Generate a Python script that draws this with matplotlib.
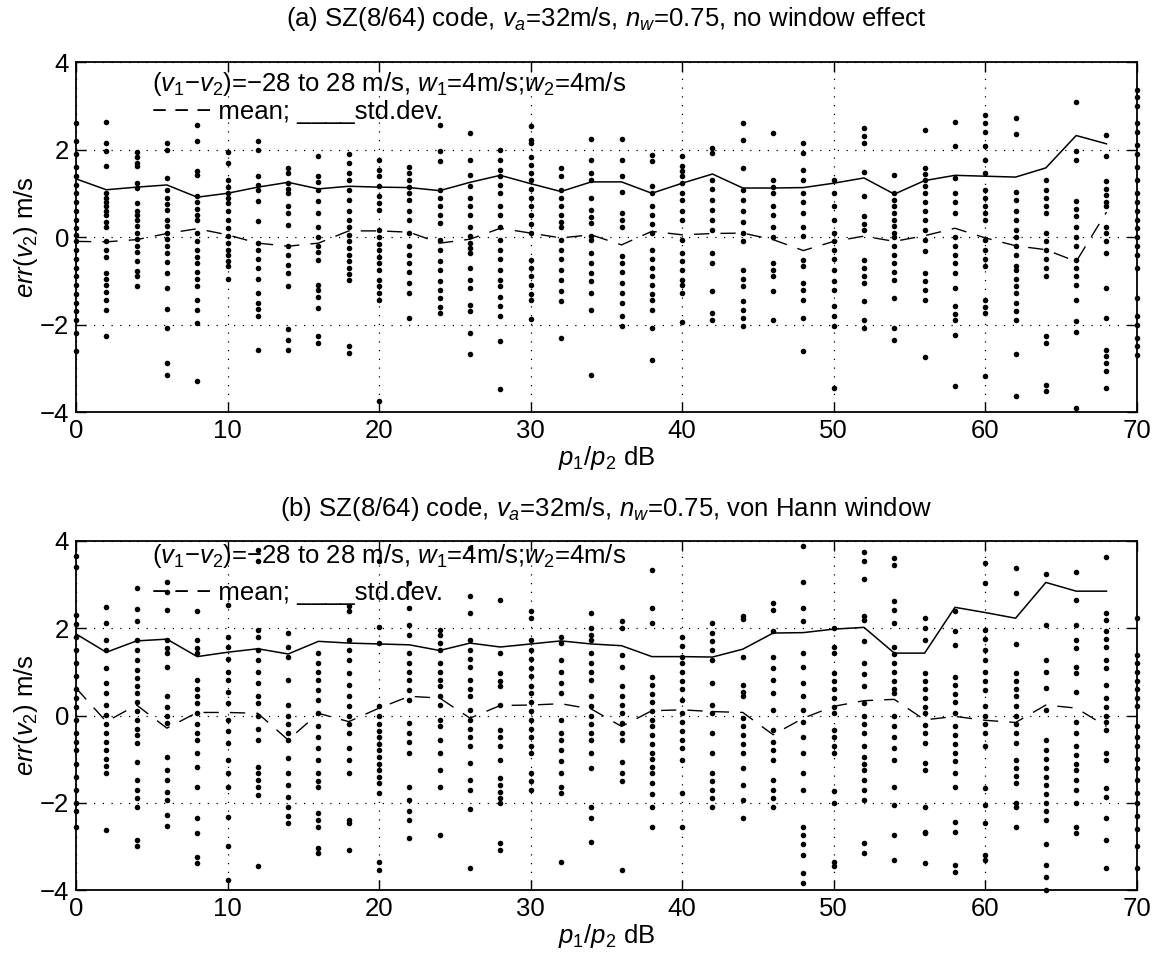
import matplotlib
matplotlib.use('Agg')
from matplotlib.backends.backend_agg import FigureCanvasAgg as FigureCanvas
from matplotlib.figure import Figure

matplotlib.rcParams['font.family'] = ['Liberation Sans', 'DejaVu Sans']
matplotlib.rcParams['mathtext.fontset'] = 'custom'
matplotlib.rcParams['mathtext.rm'] = 'Liberation Sans'
matplotlib.rcParams['mathtext.it'] = 'Liberation Sans:italic'

# p1/p2 in dB, one column of points every 2 dB
snr_db = [0, 2, 4, 6, 8, 10, 12, 14, 16, 18, 20, 22, 24, 26, 28, 30, 32, 34,
          36, 38, 40, 42, 44, 46, 48, 50, 52, 54, 56, 58, 60, 62, 64, 66, 68, 70]

# (a) no window effect: err(v2) per column
errs_a = [
    [2.6, 2.2, 1.9, 1.6, 1.4, 1.2, 1.0, 0.8, 0.6, 0.4, 0.2, 0.05, -0.1, -0.3, -0.5, -0.7, -0.9, -1.1, -1.3, -1.5, -1.7, -1.9, -2.2, -2.6],
    [2.64, 2.16, 1.96, 1.62, 1.0, 0.9, 0.8, 0.7, 0.6, 0.5, 0.35, 0.24, -0.1, -0.3, -0.45, -0.82, -0.95, -1.1, -1.25, -1.43, -1.66, -2.27],
    [1.94, 1.84, 1.7, 1.62, 1.23, 1.12, 0.78, 0.6, 0.5, 0.4, 0.25, 0.1, -0.05, -0.2, -0.35, -0.55, -0.78, -0.9, -1.13],
    [2.16, 2.0, 1.36, 1.08, 0.9, 0.75, 0.62, 0.4, 0.25, 0.1, -0.05, -0.2, -0.37, -0.56, -0.82, -1.17, -1.65, -2.08, -2.88, -3.15],
    [2.55, 2.19, 1.5, 1.42, 0.93, 0.8, 0.65, 0.5, 0.4, 0.09, -0.1, -0.3, -0.45, -0.6, -0.8, -0.97, -1.13, -1.43, -1.66, -1.97, -3.3],
    [1.94, 1.7, 1.3, 1.15, 1.0, 0.9, 0.78, 0.6, 0.4, 0.2, 0.02, -0.14, -0.3, -0.4, -0.55, -0.67, -0.97],
    [2.19, 2.0, 1.39, 1.2, 1.08, 0.82, 0.36, -0.14, -0.3, -0.5, -0.7, -0.97, -1.28, -1.5, -1.65, -1.81, -2.58],
    [1.58, 1.46, 1.23, 1.1, 1.0, 0.7, 0.55, 0.28, -0.21, -0.4, -0.63, -0.82, -1.13, -2.1, -2.35, -2.58],
    [1.86, 1.39, 1.25, 1.08, 0.82, 0.55, 0.24, 0.0, -0.2, -0.35, -0.52, -1.09, -1.2, -1.36, -1.62, -2.27, -2.42],
    [1.9, 1.69, 1.46, 1.3, 1.08, 0.85, 0.6, 0.4, 0.24, 0.05, -0.1, -0.25, -0.4, -0.55, -0.7, -0.85, -0.98, -2.5, -2.65],
    [1.77, 1.54, 1.4, 1.16, 0.93, 0.78, 0.62, 0.17, 0.0, -0.15, -0.3, -0.45, -0.6, -0.75, -0.98, -1.13, -1.28, -1.43, -3.75],
    [1.6, 1.46, 1.3, 1.15, 1.0, 0.85, 0.6, 0.4, 0.09, -0.21, -0.4, -0.6, -0.8, -1.05, -1.28, -1.85],
    [2.57, 1.96, 1.73, 1.08, 0.9, 0.7, 0.5, 0.32, -0.06, -0.3, -0.55, -0.75, -1.0, -1.2, -1.4, -1.6, -1.74],
    [2.38, 1.75, 1.42, 1.16, 0.89, 0.7, 0.51, 0.24, 0.02, -0.14, -0.25, -0.37, -0.71, -0.98, -1.17, -1.55, -1.7, -2.19, -2.67],
    [2.0, 1.77, 1.54, 1.39, 1.2, 1.0, 0.7, 0.5, 0.24, -0.06, -0.3, -0.5, -0.75, -0.98, -1.13, -1.36, -1.58, -1.81, -2.38, -3.47],
    [2.53, 2.22, 2.15, 1.84, 1.65, 1.46, 1.31, 1.1, 0.9, 0.7, 0.5, 0.3, 0.1, -0.52, -0.7, -0.9, -1.1, -1.3, -1.43, -1.87],
    [1.58, 1.39, 1.08, 0.9, 0.7, 0.5, 0.35, 0.24, -0.06, -0.3, -0.5, -0.75, -0.98, -1.24, -1.47, -2.31],
    [2.24, 1.77, 1.46, 1.31, 0.89, 0.62, 0.45, 0.32, 0.02, -0.06, -0.37, -0.6, -0.82, -1.01, -1.28, -1.66, -3.15],
    [2.24, 1.77, 1.39, 1.02, 0.55, 0.4, 0.24, -0.44, -0.6, -0.8, -1.05, -1.28, -1.5, -1.81, -2.04],
    [1.88, 1.73, 1.16, 1.0, 0.7, 0.5, 0.3, 0.09, -0.29, -0.5, -0.7, -0.9, -1.1, -1.3, -1.43, -1.66, -2.08, -2.8],
    [1.86, 1.62, 1.5, 1.39, 1.23, 1.0, 0.85, 0.6, 0.4, -0.06, -0.37, -0.55, -0.75, -0.98, -1.09, -1.28, -1.95],
    [2.03, 1.92, 1.31, 1.1, 0.85, 0.62, 0.4, 0.17, -0.37, -0.6, -1.24, -1.74, -1.89],
    [2.6, 2.21, 1.58, 1.08, 0.85, 0.6, 0.35, 0.09, -0.1, -0.75, -0.95, -1.13, -1.47, -1.66, -1.85, -2.04],
    [2.38, 1.31, 1.15, 1.0, 0.7, 0.5, 0.24, 0.0, -0.6, -0.75, -0.9, -1.23, -1.89],
    [2.16, 1.92, 1.54, 1.31, 1.0, 0.8, 0.55, 0.24, 0.02, -0.52, -0.67, -1.05, -1.2, -1.43, -1.85, -2.6],
    [1.31, 1.0, 0.7, 0.4, 0.09, -0.1, -0.3, -0.5, -0.75, -1.01, -1.2, -1.58, -1.8, -2.04, -3.45],
    [2.49, 2.3, 2.15, 1.48, 0.93, 0.47, 0.3, 0.17, -0.52, -0.7, -0.9, -1.05, -1.47, -1.89, -2.08],
    [1.42, 1.0, 0.85, 0.7, 0.55, 0.4, 0.25, 0.09, 0.0, -0.2, -0.4, -0.6, -0.8, -0.98, -1.39, -2.08, -2.35],
    [2.45, 1.58, 1.45, 1.31, 1.16, 1.0, 0.8, 0.6, 0.4, 0.17, -0.06, -0.33, -0.82, -1.0, -1.2, -1.43, -2.75],
    [2.64, 2.07, 1.35, 1.0, 0.8, 0.55, 0.0, -0.2, -0.4, -0.6, -0.82, -1.17, -1.58, -1.75, -1.89, -2.23, -3.4],
    [2.8, 2.6, 2.4, 2.07, 1.77, 1.46, 1.08, 0.9, 0.7, 0.55, 0.4, -0.06, -0.3, -0.5, -0.67, -1.43, -1.6, -1.74, -3.18],
    [2.72, 2.36, 1.04, 0.85, 0.6, 0.4, 0.17, 0.0, -0.2, -0.4, -0.67, -0.75, -0.95, -1.13, -1.28, -1.5, -1.7, -1.89, -2.67, -3.63],
    [1.31, 1.08, 0.9, 0.7, 0.55, 0.09, -0.1, -0.3, -0.5, -0.7, -0.9, -2.27, -2.42, -3.38, -3.53],
    [3.09, 1.96, 1.77, 0.82, 0.65, 0.47, 0.24, 0.0, -0.21, -0.52, -0.7, -0.9, -1.1, -1.43, -1.93, -2.16, -3.9],
    [2.34, 1.86, 1.27, 1.1, 0.95, 0.8, 0.7, 0.24, 0.1, -0.1, -0.37, -1.17, -1.85, -2.58, -2.73, -2.88, -3.06, -3.45],
    [3.37, 3.2, 3.0, 2.6, 2.4, 2.1, 1.9, 1.6, 1.3, 1.0, 0.8, 0.6, 0.4, 0.2, 0.0, -0.2, -0.4, -0.7, -1.4, -1.8, -2.0, -2.3, -2.5, -2.7],
]
mean_a = [-0.1, -0.11, -0.06, 0.08, 0.19, 0.05, -0.14, -0.21, -0.14, 0.14, 0.14, 0.11,
          -0.14, -0.05, 0.2, 0.09, -0.02, 0.05, -0.18, 0.13, 0.05, 0.08, 0.09, -0.06,
          -0.31, -0.1, 0.02, -0.1, 0.03, 0.2, -0.02, -0.2, -0.29, -0.56, 0.57]
std_a = [1.33, 1.08, 1.14, 1.19, 0.91, 1.0, 1.14, 1.25, 1.1, 1.16, 1.14, 1.13,
         1.06, 1.25, 1.41, 1.22, 1.04, 1.26, 1.26, 1.0, 1.23, 1.44, 1.12, 1.12,
         1.13, 1.23, 1.35, 0.98, 1.29, 1.41, 1.39, 1.37, 1.58, 2.32, 2.13]

# (b) von Hann window
errs_b = [
    [3.65, 3.4, 2.3, 2.1, 1.8, 1.5, 1.2, 0.9, 0.6, 0.4, 0.2, -0.1, -0.4, -0.6, -0.8, -1.1, -1.4, -1.7, -2.0, -2.2, -2.55],
    [2.48, 2.12, 1.74, 1.51, 1.09, 0.74, 0.51, 0.24, 0.02, -0.2, -0.4, -0.6, -0.8, -1.0, -1.15, -1.32, -2.62],
    [2.92, 2.44, 2.17, 1.74, 1.51, 1.28, 1.05, 0.85, 0.67, 0.51, 0.3, 0.1, -0.1, -0.3, -0.45, -0.63, -1.06, -1.48, -1.7, -1.9, -2.09, -2.85, -3.0],
    [3.05, 2.84, 2.42, 1.74, 1.55, 1.43, 1.12, 0.44, 0.2, 0.0, -0.18, -0.94, -1.25, -1.48, -1.75, -1.93, -2.28, -2.53],
    [2.39, 1.74, 1.55, 1.43, 0.82, 0.6, 0.45, 0.28, 0.05, -0.2, -0.4, -0.56, -0.86, -1.17, -1.63, -2.36, -2.7, -3.24, -3.37],
    [2.54, 1.81, 1.58, 1.3, 1.0, 0.82, 0.55, 0.28, -0.1, -0.35, -0.63, -1.02, -1.32, -1.63, -2.32, -3.0, -3.77],
    [3.8, 3.53, 1.97, 1.81, 1.51, 1.28, 1.0, 0.75, 0.44, 0.28, 0.0, -0.3, -0.56, -1.17, -1.32, -1.48, -1.65, -1.82, -3.46],
    [1.89, 1.58, 1.35, 0.82, 0.24, 0.0, -0.2, -0.4, -0.56, -0.98, -1.32, -1.6, -1.86, -2.09, -2.3, -2.47],
    [1.43, 1.2, 1.0, 0.82, 0.59, 0.35, 0.05, -0.25, -0.5, -0.75, -1.02, -1.32, -1.5, -1.63, -2.24, -2.4, -2.55, -3.04, -3.16],
    [2.5, 2.39, 1.74, 1.5, 1.28, 0.97, 0.7, 0.44, 0.21, 0.0, -0.2, -0.41, -0.75, -1.02, -1.32, -2.39, -2.47, -3.08],
    [3.53, 2.04, 1.66, 0.21, 0.0, -0.2, -0.35, -0.5, -0.65, -0.8, -0.95, -1.1, -1.25, -1.4, -1.55, -1.78, -3.35, -3.54],
    [3.04, 2.46, 2.08, 1.85, 1.43, 1.2, 1.0, 0.82, 0.59, 0.36, -0.18, -0.4, -0.6, -0.86, -1.63, -1.93, -2.2, -2.39, -2.81],
    [1.97, 1.85, 1.66, 1.51, 1.2, 1.0, 0.82, 0.67, 0.45, 0.25, -0.1, -0.25, -0.55, -0.86, -1.25, -1.63, -2.74],
    [3.84, 2.75, 2.35, 1.74, 1.5, 1.3, 1.12, 0.82, 0.6, 0.44, 0.13, -0.1, -0.3, -0.5, -0.71, -1.09, -1.48, -1.7, -2.15, -3.5],
    [2.65, 1.43, 0.97, 0.8, 0.67, 0.24, -0.33, -0.5, -0.7, -1.02, -1.44, -1.6, -1.75, -1.9, -2.01, -2.93, -3.08],
    [2.39, 2.23, 1.74, 1.5, 1.3, 1.1, 0.9, 0.67, 0.51, 0.3, 0.1, -0.1, -0.3, -0.5, -0.7, -0.86, -1.32, -1.5, -1.7],
    [1.81, 1.66, 1.28, 1.0, 0.75, 0.51, -0.1, -0.41, -0.56, -0.8, -1.05, -1.32, -1.63, -1.78, -3.35],
    [2.36, 2.0, 1.85, 1.74, 1.43, 1.2, 1.0, 0.82, 0.44, 0.21, 0.0, -0.2, -0.4, -0.56, -0.86, -1.21, -2.09, -2.36, -2.89],
    [2.16, 2.0, 1.39, 1.12, 0.67, 0.45, 0.25, 0.05, -0.18, -0.4, -0.56, -1.06, -1.32, -1.51, -3.54],
    [3.33, 2.46, 2.13, 0.89, 0.7, 0.5, 0.3, 0.1, -0.1, -0.25, -0.45, -0.65, -0.85, -1.0, -1.17, -1.32, -1.55, -1.8, -2.09, -2.56],
    [1.81, 1.6, 1.35, 1.2, 1.0, 0.8, 0.6, 0.36, 0.05, -0.15, -0.35, -0.55, -0.75, -1.02, -1.77, -2.56],
    [2.12, 1.89, 1.7, 1.51, 1.28, 0.74, 0.24, 0.05, -0.41, -0.86, -1.32, -1.5, -1.7, -1.9, -2.09],
    [2.29, 2.21, 1.34, 0.7, 0.55, 0.44, -0.06, -0.25, -0.45, -0.65, -0.86, -1.21, -1.59, -1.93, -2.36],
    [2.59, 2.42, 1.93, 1.35, 1.1, 0.82, 0.51, 0.13, -0.33, -0.6, -0.8, -1.02, -1.48, -1.7, -1.9, -2.09],
    [3.89, 3.07, 2.46, 2.16, 1.43, 1.12, 0.74, 0.45, 0.13, -0.14, -0.5, -0.86, -1.32, -1.7, -2.55, -2.75, -2.95, -3.2, -3.62, -3.85],
    [2.0, 1.58, 1.43, 0.97, 0.8, 0.6, 0.4, 0.2, 0.05, -0.33, -0.5, -0.7, -0.86, -1.74, -2.01, -3.35, -3.46],
    [3.74, 3.53, 3.13, 2.27, 2.2, 1.7, 1.2, 0.95, 0.67, 0.28, -0.02, -0.2, -0.41, -0.71, -0.95, -1.1, -1.25, -1.48, -1.7, -1.93, -2.93, -3.16],
    [3.61, 3.46, 2.62, 2.42, 2.12, 1.58, 1.4, 1.2, 1.0, 0.8, 0.6, 0.51, -0.02, -0.25, -0.5, -0.75, -1.02, -1.63, -2.05, -2.74, -3.31],
    [2.23, 2.0, 1.74, 0.97, 0.8, 0.6, 0.4, 0.2, 0.05, -0.21, -0.4, -0.63, -1.09, -1.25, -2.09, -2.66, -2.7, -3.39],
    [2.39, 1.93, 1.62, 0.89, 0.7, 0.5, 0.3, 0.05, -0.25, -0.45, -0.65, -0.85, -1.05, -1.32, -1.63, -2.43, -2.66, -3.43, -3.58],
    [3.5, 3.04, 1.97, 1.75, 1.51, 1.28, 1.0, 0.8, 0.59, 0.21, 0.0, -0.2, -0.41, -0.71, -1.67, -2.05, -2.47, -3.2, -3.31],
    [3.38, 2.81, 1.64, 0.97, 0.8, 0.6, 0.44, 0.21, 0.0, -0.2, -0.4, -0.63, -1.02, -1.2, -1.38, -1.55, -2.01, -2.09, -2.55],
    [3.24, 2.08, 1.28, 1.0, 0.63, 0.13, -0.56, -0.8, -1.0, -1.2, -1.4, -1.6, -1.8, -2.0, -2.2, -2.39, -2.94, -3.43, -3.7, -4.0],
    [3.28, 2.65, 2.08, 1.74, 1.55, 1.12, 0.97, 0.55, -0.14, -0.4, -0.71, -0.9, -1.1, -1.25, -1.48, -1.7, -2.01, -2.55, -2.7],
    [3.63, 2.35, 2.2, 1.93, 1.75, 1.58, 1.28, 1.09, 0.7, 0.4, 0.2, 0.0, -0.15, -0.33, -0.86, -1.02, -1.67, -1.86, -2.36, -2.85, -3.5],
    [2.23, 1.39, 1.2, 1.0, 0.8, 0.6, 0.4, 0.21, -0.25, -0.5, -0.7, -1.0, -1.2, -1.48, -1.78, -2.0, -2.3, -2.6, -3.0, -3.5],
]
mean_b = [0.63, -0.14, 0.24, -0.29, 0.07, 0.07, 0.05, -0.56, 0.05, -0.14, 0.17, 0.44,
          0.4, -0.06, 0.23, 0.24, 0.27, 0.15, -0.25, 0.11, 0.13, 0.09, 0.07, -0.44,
          -0.06, 0.21, 0.34, 0.37, -0.1, -0.02, -0.11, -0.16, 0.24, 0.17, -0.25]
std_b = [1.87, 1.45, 1.71, 1.75, 1.35, 1.45, 1.53, 1.41, 1.7, 1.66, 1.64, 1.62,
         1.49, 1.66, 1.57, 1.64, 1.71, 1.64, 1.6, 1.35, 1.35, 1.34, 1.52, 1.89,
         1.9, 1.98, 2.02, 1.43, 1.43, 2.48, 2.36, 2.23, 3.05, 2.85, 2.85]

titles = [
    r'(a) SZ(8/64) code, $v_{\mathit{a}}$=32m/s, $n_{\mathit{w}}$=0.75, no window effect',
    r'(b) SZ(8/64) code, $v_{\mathit{a}}$=32m/s, $n_{\mathit{w}}$=0.75, von Hann window',
]
note_1 = r'($v_{\mathit{1}}$$-$$v_{\mathit{2}}$)=$-$28 to 28 m/s, $w_{\mathit{1}}$=4m/s;$w_{\mathit{2}}$=4m/s'
note_2 = '\u2212 \u2212 \u2212 mean; ____std.dev.'

FS = 18.5

fig = Figure(figsize=(11.6, 9.69), dpi=100)
FigureCanvas(fig)
ax_a = fig.add_axes([0.0655, 0.5748, 0.9145, 0.3612])
ax_b = fig.add_axes([0.0655, 0.0815, 0.9145, 0.3602])


def draw_panel(ax, errs, mean, std, title, title_pad, note_y):
    # scatter of every estimate, one column per p1/p2 value
    for x, col in zip(snr_db, errs):
        ax.plot([x] * len(col), col, 'o', color='k', markersize=4.0, markeredgewidth=0,
                clip_on=False, zorder=3)
    n = len(mean)
    ax.plot(snr_db[:n], std, color='k', lw=1.1, zorder=4)
    ax.plot(snr_db[:n], mean, color='k', lw=1.0, linestyle=(0, (11, 8)), zorder=4)

    ax.set_xlim(0, 70)
    ax.set_ylim(-4, 4)
    ax.set_xticks([0, 10, 20, 30, 40, 50, 60, 70])
    ax.set_yticks([-4, -2, 0, 2, 4])
    ax.set_yticklabels(['\u22124', '\u22122', '0', '2', '4'])
    ax.grid(True, color='k', lw=0.9, linestyle=(0, (1, 6)))
    ax.tick_params(direction='in', length=7, width=1, top=True, right=True,
                   labelsize=FS, pad=5)
    for s in ax.spines.values():
        s.set_linewidth(1.3)

    ax.set_xlabel(r'$p_{\mathit{1}}/p_{\mathit{2}}$ dB', fontsize=FS, labelpad=1)
    ax.set_ylabel(r'$err(v_{\mathit{2}})$ m/s', fontsize=FS, labelpad=0)
    ax.set_title(title, fontsize=FS, pad=title_pad)

    ax.text(5, note_y[0], note_1, fontsize=FS, va='center', ha='left', zorder=5)
    ax.text(5, note_y[1], note_2, fontsize=FS, va='center', ha='left', zorder=5)


draw_panel(ax_a, errs_a, mean_a, std_a, titles[0], 26, (3.5, 2.85))
draw_panel(ax_b, errs_b, mean_b, std_b, titles[1], 18, (3.65, 2.8))

fig.savefig('out.png', dpi=100)
